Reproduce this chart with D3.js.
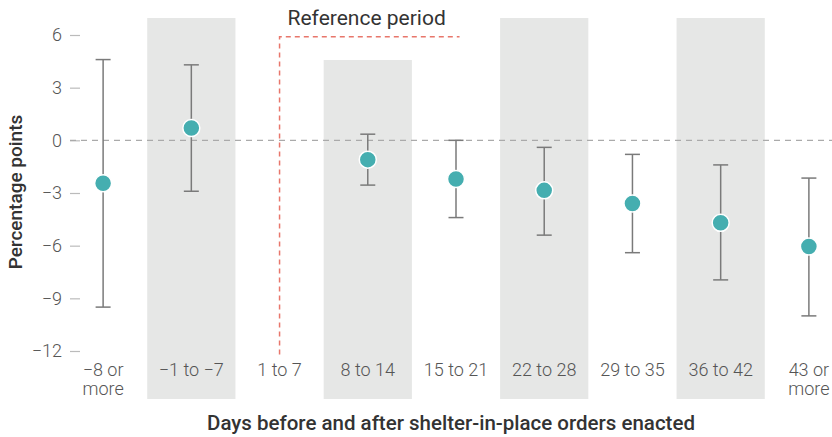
<!DOCTYPE html>
<html lang="en">
<head>
<meta charset="UTF-8">
<script src="https://d3js.org/d3.v7.min.js"></script>
<style>
    body { margin: 0; background: #fff; }
    svg text { font-family: Roboto, "Open Sans", sans-serif; }
</style>
</head>
<body>
<svg id="chart" width="832" height="437"></svg>
<script>
    // data
    var categories = ["\u22128 or more", "\u22121 to \u22127", "1 to 7", "8 to 14", "15 to 21",
        "22 to 28", "29 to 35", "36 to 42", "43 or more"];
    var estimates = [-2.45, 0.7, null, -1.1, -2.2, -2.85, -3.6, -4.7, -6.05];
    var lower = [-9.5, -2.9, null, -2.55, -4.4, -5.4, -6.4, -7.95, -10.0];
    var upper = [4.6, 4.3, null, 0.35, 0.0, -0.4, -0.8, -1.4, -2.15];
    var shaded = ["\u22121 to \u22127", "8 to 14", "22 to 28", "36 to 42"];
    var yTicks = [6, 3, 0, -3, -6, -9, -12];
    var referenceCategory = "1 to 7";

    var svg = d3.select("#chart");

    var x = d3.scaleBand()
        .domain(categories)
        .range([59, 853])
        .padding(0);

    var y = d3.scaleLinear()
        .domain([-12, 6])
        .range([351, 35]);

    // grey bands behind alternate columns
    svg.append("g")
        .selectAll("rect")
        .data(shaded)
        .enter()
        .append("rect")
        .attr("x", function (d) { return x(d); })
        .attr("width", x.bandwidth())
        .attr("y", function (d) { return d == "8 to 14" ? 60 : 18; })
        .attr("height", function (d) { return d == "8 to 14" ? 399 - 60 : 399 - 18; })
        .attr("fill", "#e6e7e6");

    // y axis
    var yAxis = svg.append("g")
        .attr("transform", "translate(80,0)")
        .call(d3.axisLeft(y).tickValues(yTicks).tickSize(10).tickPadding(8)
            .tickFormat(function (d) { return d < 0 ? "\u2212" + Math.abs(d) : d; }));
    yAxis.select(".domain").remove();
    yAxis.selectAll("line").attr("stroke", "#bbb").attr("stroke-width", 1.2);
    yAxis.selectAll("text")
        .attr("fill", "#555")
        .style("font-size", "18px")
        .style("font-weight", 300);

    // zero line
    svg.append("line")
        .attr("x1", 70).attr("x2", 832)
        .attr("y1", y(0)).attr("y2", y(0))
        .attr("stroke", "#aaa")
        .attr("stroke-width", 1.2)
        .attr("stroke-dasharray", "6,5");

    // reference period bracket
    var refX = x(referenceCategory) + x.bandwidth() / 2;
    svg.append("path")
        .attr("d", "M" + refX + "," + y(-12.2) + "V" + y(5.9) + "H" + (refX + 180))
        .attr("fill", "none")
        .attr("stroke", "#e8766b")
        .attr("stroke-width", 1.5)
        .attr("stroke-dasharray", "5,4");
    svg.append("text")
        .attr("x", refX + 8)
        .attr("y", 25)
        .attr("fill", "#333")
        .style("font-size", "21px")
        .text("Reference period");

    // error bars
    var rows = categories.map(function (c, i) {
        return { cat: c, est: estimates[i], lo: lower[i], hi: upper[i] };
    }).filter(function (d) { return d.est !== null; });

    var bars = svg.append("g")
        .selectAll("g")
        .data(rows)
        .enter()
        .append("g")
        .attr("transform", function (d) { return "translate(" + (x(d.cat) + x.bandwidth() / 2) + ",0)"; });

    bars.append("line")
        .attr("y1", function (d) { return y(d.hi); })
        .attr("y2", function (d) { return y(d.lo); })
        .attr("stroke", "#7a7a7a")
        .attr("stroke-width", 1.5);
    bars.selectAll(".cap")
        .data(function (d) { return [d.hi, d.lo]; })
        .enter()
        .append("line")
        .attr("class", "cap")
        .attr("x1", -7.5).attr("x2", 7.5)
        .attr("y1", function (v) { return y(v); })
        .attr("y2", function (v) { return y(v); })
        .attr("stroke", "#7a7a7a")
        .attr("stroke-width", 1.5);
    bars.append("circle")
        .attr("cy", function (d) { return y(d.est); })
        .attr("r", 8.5)
        .attr("fill", "#45aeb0")
        .attr("stroke", "#fff")
        .attr("stroke-width", 1.5);

    // x category labels
    var labels = svg.append("g")
        .selectAll("text")
        .data(categories)
        .enter()
        .append("text")
        .attr("x", function (d) { return x(d) + x.bandwidth() / 2; })
        .attr("y", 376)
        .attr("text-anchor", "middle")
        .attr("fill", "#555")
        .style("font-size", "18px")
        .style("font-weight", 300);
    labels.each(function (d) {
        var parts = d.indexOf(" or more") > 0 ? [d.replace(" more", ""), "more"] : [d];
        var t = d3.select(this);
        parts.forEach(function (p, i) {
            t.append("tspan")
                .attr("x", t.attr("x"))
                .attr("dy", i == 0 ? 0 : 19)
                .text(p);
        });
    });

    // axis titles
    svg.append("text")
        .attr("transform", "translate(22,192) rotate(-90)")
        .attr("text-anchor", "middle")
        .attr("fill", "#333")
        .style("font-size", "19px")
        .style("font-weight", 500)
        .text("Percentage points");

    svg.append("text")
        .attr("x", 451)
        .attr("y", 430)
        .attr("text-anchor", "middle")
        .attr("fill", "#333")
        .style("font-size", "20.5px")
        .style("font-weight", 500)
        .text("Days before and after shelter-in-place orders enacted");
</script>
</body>
</html>
